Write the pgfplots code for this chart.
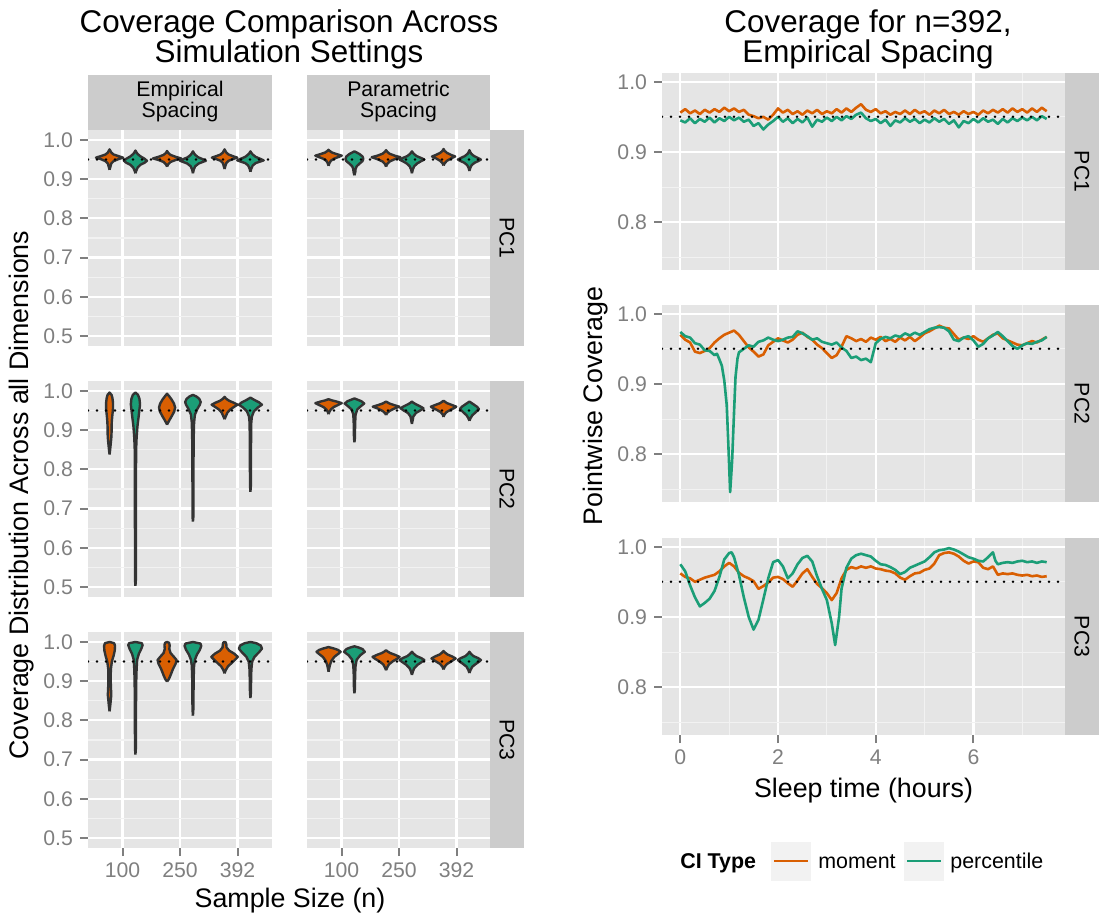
\documentclass[border=0pt]{standalone}
\usepackage{fontspec}
\setmainfont{Liberation Sans}
\usepackage{pgfplots}
\pgfplotsset{compat=1.18}

\definecolor{ggorange}{HTML}{D95F02}
\definecolor{gggreen}{HTML}{1B9E77}
\definecolor{ggpanel}{HTML}{E5E5E5}
\definecolor{ggminor}{HTML}{F2F2F2}
\definecolor{ggstrip}{HTML}{CCCCCC}
\definecolor{ggtick}{HTML}{7F7F7F}
\definecolor{ggdark}{HTML}{333333}

\pgfplotsset{
  gg/.style={scale only axis, axis background/.style={fill=ggpanel},
    axis line style={draw=none}, tick align=outside, tick pos=left,
    major tick length=4pt, minor tick length=0pt,
    tick style={draw=ggtick, line width=1pt},
    xmajorgrids, ymajorgrids, yminorgrids,
    major grid style={white, line width=1.1pt},
    minor grid style={ggminor, line width=0.55pt},
    tick label style={font=\fontsize{10.6}{12}\selectfont, text=ggtick},
    clip mode=individual},
  vl/.style={gg, width=92pt, height=108pt, xmin=0.4, xmax=3.6,
    ymin=0.4745, ymax=1.0255, xtick={1,2,3}, xticklabels={100,250,392},
    ytick={0.5,0.6,0.7,0.8,0.9,1.0}, yticklabels={0.5,0.6,0.7,0.8,0.9,1.0},
    minor ytick={0.55,0.65,0.75,0.85,0.95}},
  tl/.style={gg, width=201.5pt, height=98.5pt, xmin=-0.375, xmax=7.875,
    ymin=0.732, ymax=1.0124, xtick={0,2,4,6}, xticklabels={0,2,4,6},
    minor xtick={1,3,5,7}, xminorgrids,
    ytick={0.8,0.9,1.0}, yticklabels={0.8,0.9,1.0}, minor ytick={0.75,0.85,0.95}},
  noxlab/.style={xticklabels={}, xtick style={draw=none}},
  noylab/.style={yticklabels={}, ytick style={draw=none}},
  vio/.style={draw=ggdark, line width=1.2pt, line join=round},
  hl/.style={black, line width=1.4pt, dash pattern=on 0pt off 4.5pt, line cap=round},
  ts/.style={line width=1.3pt, line join=round},
}

% violin outline from y/halfwidth pairs, bottom to top
\newcommand\violin[3]{%
  \gdef\vL{}\gdef\vR{}%
  \foreach \yy/\ww in {#3}{%
    \xdef\vL{\vL(\fpeval{#1-\ww},\yy)}%
    \xdef\vR{(\fpeval{#1+\ww},\yy)\vR}%
  }%
  \edef\vnext{\noexpand\addplot[vio,fill=#2] coordinates {\vL\vR};}%
  \vnext
}

\begin{document}
\begin{tikzpicture}
\path[use as bounding box] (0,0) rectangle (550pt,459pt);

% ---------- left: violins ----------
\begin{axis}[vl, noxlab, at={(44pt,286pt)}, anchor=south west]
\violin{0.775}{ggorange}{0.924/0, 0.932/0.015, 0.940/0.03, 0.946/0.07, 0.951/0.15, 0.955/0.235, 0.959/0.15, 0.963/0.07, 0.968/0.03, 0.972/0.015, 0.976/0}
\violin{1.225}{gggreen}{0.915/0, 0.922/0.015, 0.930/0.04, 0.937/0.09, 0.942/0.16, 0.947/0.2, 0.952/0.16, 0.958/0.09, 0.964/0.04, 0.969/0.015, 0.973/0}
\violin{1.775}{ggorange}{0.932/0, 0.938/0.02, 0.944/0.06, 0.949/0.15, 0.953/0.245, 0.957/0.15, 0.962/0.06, 0.967/0.02, 0.972/0}
\violin{2.225}{gggreen}{0.915/0, 0.925/0.015, 0.933/0.04, 0.940/0.1, 0.944/0.17, 0.947/0.225, 0.951/0.17, 0.956/0.09, 0.962/0.04, 0.967/0.015, 0.971/0}
\violin{2.775}{ggorange}{0.926/0, 0.934/0.015, 0.941/0.03, 0.947/0.07, 0.951/0.14, 0.955/0.22, 0.959/0.14, 0.963/0.07, 0.968/0.03, 0.972/0.015, 0.976/0}
\violin{3.225}{gggreen}{0.919/0, 0.927/0.015, 0.935/0.04, 0.941/0.09, 0.945/0.17, 0.948/0.23, 0.952/0.17, 0.957/0.09, 0.963/0.04, 0.967/0.015, 0.971/0}
\addplot[hl] coordinates {(0.4,0.95) (3.6,0.95)};
\end{axis}

\begin{axis}[vl, noxlab, noylab, at={(153.5pt,286pt)}, anchor=south west]
\violin{0.775}{ggorange}{0.934/0, 0.941/0.015, 0.947/0.04, 0.952/0.09, 0.956/0.16, 0.960/0.23, 0.964/0.14, 0.968/0.06, 0.972/0.02, 0.975/0}
\violin{1.225}{gggreen}{0.910/0, 0.918/0.015, 0.926/0.02, 0.933/0.04, 0.940/0.09, 0.946/0.14, 0.952/0.155, 0.958/0.14, 0.964/0.09, 0.968/0.04, 0.971/0}
\violin{1.775}{ggorange}{0.932/0, 0.939/0.02, 0.945/0.06, 0.951/0.15, 0.956/0.25, 0.960/0.15, 0.965/0.06, 0.970/0.02, 0.974/0}
\violin{2.225}{gggreen}{0.915/0, 0.925/0.015, 0.933/0.04, 0.940/0.09, 0.946/0.16, 0.950/0.215, 0.954/0.16, 0.959/0.08, 0.965/0.03, 0.971/0}
\violin{2.775}{ggorange}{0.935/0, 0.941/0.02, 0.947/0.06, 0.953/0.13, 0.958/0.2, 0.962/0.13, 0.967/0.06, 0.972/0.02, 0.977/0}
\violin{3.225}{gggreen}{0.921/0, 0.929/0.015, 0.936/0.04, 0.942/0.09, 0.946/0.15, 0.950/0.2, 0.954/0.15, 0.959/0.08, 0.965/0.03, 0.970/0.012, 0.974/0}
\addplot[hl] coordinates {(0.4,0.95) (3.6,0.95)};
\end{axis}

\begin{axis}[vl, noxlab, at={(44pt,160.5pt)}, anchor=south west]
\violin{0.775}{ggorange}{0.838/0, 0.850/0.01, 0.865/0.02, 0.880/0.03, 0.895/0.035, 0.910/0.035, 0.925/0.04, 0.940/0.05, 0.955/0.06, 0.970/0.06, 0.982/0.05, 0.990/0.035, 0.996/0}
\violin{1.225}{gggreen}{0.503/0, 0.52/0.008, 0.60/0.008, 0.70/0.009, 0.80/0.01, 0.85/0.012, 0.88/0.02, 0.91/0.035, 0.94/0.06, 0.966/0.08, 0.980/0.07, 0.990/0.045, 0.996/0}
\violin{1.775}{ggorange}{0.914/0, 0.920/0.02, 0.928/0.05, 0.938/0.09, 0.948/0.125, 0.958/0.14, 0.968/0.12, 0.978/0.08, 0.986/0.04, 0.993/0}
\violin{2.225}{gggreen}{0.667/0, 0.68/0.008, 0.75/0.008, 0.82/0.01, 0.88/0.013, 0.92/0.02, 0.94/0.035, 0.955/0.08, 0.965/0.12, 0.972/0.135, 0.980/0.11, 0.986/0.06, 0.990/0}
\violin{2.775}{ggorange}{0.928/0, 0.935/0.02, 0.945/0.05, 0.953/0.1, 0.960/0.17, 0.965/0.225, 0.970/0.16, 0.975/0.08, 0.980/0.03, 0.985/0}
\violin{3.225}{gggreen}{0.743/0, 0.76/0.008, 0.82/0.009, 0.88/0.011, 0.92/0.015, 0.935/0.025, 0.948/0.06, 0.958/0.13, 0.965/0.2, 0.971/0.15, 0.977/0.07, 0.983/0}
\addplot[hl] coordinates {(0.4,0.95) (3.6,0.95)};
\end{axis}

\begin{axis}[vl, noxlab, noylab, at={(153.5pt,160.5pt)}, anchor=south west]
\violin{0.775}{ggorange}{0.941/0, 0.947/0.015, 0.953/0.04, 0.959/0.09, 0.964/0.16, 0.969/0.23, 0.973/0.14, 0.976/0.06, 0.979/0}
\violin{1.225}{gggreen}{0.869/0, 0.88/0.008, 0.90/0.01, 0.92/0.013, 0.94/0.02, 0.953/0.05, 0.961/0.11, 0.968/0.17, 0.974/0.12, 0.978/0.05, 0.981/0}
\violin{1.775}{ggorange}{0.939/0, 0.944/0.02, 0.949/0.06, 0.955/0.14, 0.960/0.23, 0.964/0.14, 0.968/0.06, 0.973/0}
\violin{2.225}{gggreen}{0.916/0, 0.925/0.012, 0.935/0.025, 0.944/0.07, 0.950/0.14, 0.956/0.2, 0.961/0.14, 0.966/0.07, 0.970/0.025, 0.973/0}
\violin{2.775}{ggorange}{0.934/0, 0.940/0.015, 0.946/0.05, 0.952/0.12, 0.957/0.19, 0.960/0.22, 0.964/0.15, 0.969/0.06, 0.975/0}
\violin{3.225}{gggreen}{0.924/0, 0.931/0.02, 0.938/0.05, 0.946/0.11, 0.954/0.165, 0.960/0.13, 0.966/0.07, 0.970/0.03, 0.973/0}
\addplot[hl] coordinates {(0.4,0.95) (3.6,0.95)};
\end{axis}

\begin{axis}[vl, at={(44pt,35pt)}, anchor=south west]
\violin{0.775}{ggorange}{0.823/0, 0.835/0.01, 0.850/0.02, 0.865/0.03, 0.880/0.025, 0.900/0.02, 0.930/0.022, 0.950/0.04, 0.965/0.07, 0.978/0.09, 0.990/0.095, 0.997/0.08, 1.0/0}
\violin{1.225}{gggreen}{0.713/0, 0.73/0.008, 0.80/0.009, 0.86/0.011, 0.90/0.014, 0.93/0.02, 0.955/0.03, 0.970/0.06, 0.982/0.1, 0.992/0.125, 0.997/0.11, 1.0/0}
\violin{1.775}{ggorange}{0.899/0, 0.905/0.03, 0.915/0.06, 0.930/0.1, 0.945/0.15, 0.954/0.165, 0.962/0.12, 0.972/0.06, 0.982/0.04, 0.992/0.045, 0.998/0.035, 1.0/0}
\violin{2.225}{gggreen}{0.812/0, 0.83/0.008, 0.87/0.01, 0.91/0.013, 0.94/0.02, 0.955/0.035, 0.968/0.07, 0.980/0.12, 0.990/0.145, 0.996/0.13, 1.0/0}
\violin{2.775}{ggorange}{0.920/0, 0.928/0.02, 0.938/0.06, 0.950/0.15, 0.962/0.23, 0.970/0.17, 0.978/0.08, 0.986/0.035, 0.994/0.03, 0.999/0.02, 1.0/0}
\violin{3.225}{gggreen}{0.857/0, 0.87/0.008, 0.90/0.011, 0.93/0.016, 0.950/0.03, 0.962/0.07, 0.974/0.15, 0.983/0.2, 0.991/0.18, 0.997/0.1, 1.0/0}
\addplot[hl] coordinates {(0.4,0.95) (3.6,0.95)};
\end{axis}

\begin{axis}[vl, noylab, at={(153.5pt,35pt)}, anchor=south west]
\violin{0.775}{ggorange}{0.924/0, 0.932/0.01, 0.942/0.025, 0.952/0.05, 0.962/0.1, 0.970/0.17, 0.975/0.21, 0.980/0.16, 0.984/0.08, 0.987/0}
\violin{1.225}{gggreen}{0.869/0, 0.88/0.008, 0.90/0.01, 0.92/0.013, 0.94/0.02, 0.955/0.04, 0.966/0.1, 0.975/0.18, 0.982/0.14, 0.986/0.07, 0.989/0}
\violin{1.775}{ggorange}{0.928/0, 0.935/0.02, 0.943/0.05, 0.951/0.12, 0.957/0.19, 0.962/0.235, 0.967/0.16, 0.972/0.07, 0.976/0.025, 0.979/0}
\violin{2.225}{gggreen}{0.916/0, 0.924/0.015, 0.933/0.04, 0.942/0.1, 0.949/0.17, 0.954/0.215, 0.959/0.16, 0.964/0.08, 0.970/0.03, 0.975/0}
\violin{2.775}{ggorange}{0.930/0, 0.937/0.02, 0.944/0.06, 0.951/0.14, 0.958/0.21, 0.963/0.15, 0.968/0.07, 0.973/0.025, 0.977/0}
\violin{3.225}{gggreen}{0.921/0, 0.929/0.02, 0.937/0.05, 0.945/0.12, 0.950/0.17, 0.954/0.2, 0.959/0.15, 0.964/0.07, 0.970/0.025, 0.975/0}
\addplot[hl] coordinates {(0.4,0.95) (3.6,0.95)};
\end{axis}

% ---------- right: pointwise coverage ----------
\begin{axis}[tl, noxlab, at={(331pt,324pt)}, anchor=south west]
\addplot[ts, ggorange] table {
0.0 0.956
0.1 0.961
0.2 0.955
0.3 0.959
0.4 0.954
0.5 0.960
0.6 0.956
0.7 0.961
0.8 0.957
0.9 0.963
1.0 0.958
1.1 0.962
1.2 0.957
1.3 0.960
1.4 0.953
1.5 0.951
1.6 0.948
1.7 0.950
1.8 0.946
1.9 0.953
2.0 0.962
2.1 0.956
2.2 0.960
2.3 0.954
2.4 0.958
2.5 0.953
2.6 0.959
2.7 0.955
2.8 0.960
2.9 0.954
3.0 0.958
3.1 0.955
3.2 0.961
3.3 0.956
3.4 0.962
3.5 0.957
3.6 0.963
3.7 0.968
3.8 0.960
3.9 0.957
4.0 0.961
4.1 0.955
4.2 0.958
4.3 0.953
4.4 0.957
4.5 0.954
4.6 0.959
4.7 0.954
4.8 0.960
4.9 0.955
5.0 0.958
5.1 0.953
5.2 0.959
5.3 0.955
5.4 0.960
5.5 0.954
5.6 0.957
5.7 0.953
5.8 0.958
5.9 0.954
6.0 0.957
6.1 0.953
6.2 0.959
6.3 0.955
6.4 0.960
6.5 0.956
6.6 0.961
6.7 0.956
6.8 0.962
6.9 0.957
7.0 0.961
7.1 0.956
7.2 0.962
7.3 0.957
7.4 0.963
7.5 0.958
};
\addplot[ts, gggreen] table {
0.0 0.945
0.1 0.942
0.2 0.948
0.3 0.941
0.4 0.947
0.5 0.943
0.6 0.949
0.7 0.942
0.8 0.948
0.9 0.944
1.0 0.950
1.1 0.945
1.2 0.949
1.3 0.943
1.4 0.946
1.5 0.937
1.6 0.941
1.7 0.932
1.8 0.939
1.9 0.944
2.0 0.950
2.1 0.943
2.2 0.948
2.3 0.941
2.4 0.947
2.5 0.942
2.6 0.949
2.7 0.936
2.8 0.946
2.9 0.943
3.0 0.949
3.1 0.944
3.2 0.950
3.3 0.945
3.4 0.951
3.5 0.947
3.6 0.953
3.7 0.956
3.8 0.948
3.9 0.944
4.0 0.947
4.1 0.941
4.2 0.946
4.3 0.937
4.4 0.945
4.5 0.942
4.6 0.948
4.7 0.943
4.8 0.947
4.9 0.941
5.0 0.946
5.1 0.942
5.2 0.948
5.3 0.943
5.4 0.947
5.5 0.940
5.6 0.945
5.7 0.935
5.8 0.944
5.9 0.941
6.0 0.947
6.1 0.942
6.2 0.948
6.3 0.943
6.4 0.946
6.5 0.940
6.6 0.947
6.7 0.942
6.8 0.948
6.9 0.944
7.0 0.949
7.1 0.945
7.2 0.950
7.3 0.945
7.4 0.951
7.5 0.947
};
\addplot[hl] coordinates {(-0.375,0.95) (7.875,0.95)};
\end{axis}

\begin{axis}[tl, noxlab, at={(331pt,208pt)}, anchor=south west]
\addplot[ts, ggorange] table {
0.0 0.970
0.1 0.963
0.2 0.959
0.3 0.946
0.4 0.944
0.5 0.947
0.6 0.951
0.7 0.959
0.8 0.965
0.9 0.970
1.0 0.973
1.1 0.976
1.2 0.970
1.3 0.961
1.4 0.952
1.5 0.946
1.6 0.939
1.7 0.942
1.8 0.955
1.9 0.960
2.0 0.965
2.1 0.962
2.2 0.959
2.3 0.963
2.4 0.970
2.5 0.973
2.6 0.967
2.7 0.963
2.8 0.956
2.9 0.951
3.0 0.944
3.1 0.937
3.2 0.941
3.3 0.953
3.4 0.968
3.5 0.965
3.6 0.961
3.7 0.964
3.8 0.960
3.9 0.966
4.0 0.963
4.1 0.967
4.2 0.961
4.3 0.964
4.4 0.960
4.5 0.966
4.6 0.962
4.7 0.967
4.8 0.961
4.9 0.966
5.0 0.972
5.1 0.975
5.2 0.979
5.3 0.983
5.4 0.980
5.5 0.979
5.6 0.971
5.7 0.963
5.8 0.966
5.9 0.964
6.0 0.968
6.1 0.963
6.2 0.960
6.3 0.965
6.4 0.970
6.5 0.972
6.6 0.965
6.7 0.962
6.8 0.959
6.9 0.956
7.0 0.955
7.1 0.958
7.2 0.961
7.3 0.959
7.4 0.963
7.5 0.967
};
\addplot[ts, gggreen] table {
0.0 0.974
0.1 0.968
0.2 0.966
0.3 0.958
0.4 0.956
0.5 0.948
0.6 0.947
0.7 0.941
0.75 0.943
0.8 0.935
0.85 0.926
0.9 0.905
0.95 0.870
0.98 0.820
1.02 0.746
1.06 0.790
1.10 0.860
1.13 0.910
1.17 0.936
1.2 0.945
1.3 0.950
1.4 0.955
1.5 0.953
1.6 0.960
1.7 0.962
1.8 0.966
1.9 0.963
2.0 0.961
2.1 0.963
2.2 0.966
2.3 0.967
2.4 0.975
2.5 0.972
2.6 0.968
2.7 0.963
2.8 0.965
2.9 0.960
3.0 0.958
3.1 0.956
3.2 0.959
3.3 0.952
3.4 0.947
3.5 0.937
3.6 0.939
3.7 0.934
3.8 0.936
3.9 0.931
4.0 0.958
4.1 0.964
4.2 0.967
4.3 0.965
4.4 0.969
4.5 0.967
4.6 0.972
4.7 0.969
4.8 0.973
4.9 0.970
5.0 0.974
5.1 0.978
5.2 0.980
5.3 0.981
5.4 0.980
5.5 0.975
5.6 0.963
5.7 0.961
5.8 0.966
5.9 0.968
6.0 0.962
6.1 0.953
6.2 0.957
6.3 0.965
6.4 0.969
6.5 0.974
6.6 0.968
6.7 0.961
6.8 0.954
6.9 0.950
7.0 0.955
7.1 0.958
7.2 0.957
7.3 0.960
7.4 0.962
7.5 0.967
};
\addplot[hl] coordinates {(-0.375,0.95) (7.875,0.95)};
\end{axis}

\begin{axis}[tl, at={(331pt,91.5pt)}, anchor=south west]
\addplot[ts, ggorange] table {
0.0 0.962
0.1 0.957
0.2 0.955
0.3 0.950
0.4 0.953
0.5 0.956
0.6 0.958
0.7 0.960
0.8 0.965
0.9 0.972
1.0 0.977
1.1 0.972
1.2 0.963
1.3 0.958
1.4 0.955
1.5 0.951
1.6 0.940
1.7 0.944
1.8 0.949
1.9 0.956
2.0 0.957
2.1 0.954
2.2 0.948
2.3 0.943
2.4 0.952
2.5 0.962
2.6 0.968
2.7 0.957
2.8 0.947
2.9 0.941
3.0 0.934
3.1 0.924
3.2 0.934
3.3 0.955
3.4 0.967
3.5 0.971
3.6 0.969
3.7 0.972
3.8 0.970
3.9 0.972
4.0 0.969
4.1 0.968
4.2 0.966
4.3 0.965
4.4 0.962
4.5 0.956
4.6 0.953
4.7 0.958
4.8 0.962
4.9 0.963
5.0 0.967
5.1 0.969
5.2 0.976
5.3 0.988
5.4 0.991
5.5 0.992
5.6 0.990
5.7 0.986
5.8 0.980
5.9 0.976
6.0 0.979
6.1 0.978
6.2 0.970
6.3 0.968
6.4 0.972
6.5 0.960
6.6 0.962
6.7 0.961
6.8 0.962
6.9 0.960
7.0 0.959
7.1 0.960
7.2 0.958
7.3 0.959
7.4 0.957
7.5 0.958
};
\addplot[ts, gggreen] table {
0.0 0.975
0.1 0.965
0.2 0.945
0.3 0.928
0.4 0.915
0.5 0.920
0.6 0.926
0.7 0.937
0.8 0.957
0.9 0.982
1.0 0.991
1.05 0.992
1.1 0.985
1.2 0.960
1.3 0.928
1.4 0.900
1.5 0.882
1.6 0.896
1.7 0.925
1.8 0.955
1.9 0.978
2.0 0.981
2.1 0.972
2.2 0.955
2.3 0.962
2.4 0.975
2.5 0.984
2.6 0.987
2.7 0.979
2.8 0.958
2.9 0.940
3.0 0.924
3.1 0.891
3.17 0.860
3.25 0.900
3.3 0.940
3.4 0.970
3.5 0.983
3.6 0.988
3.7 0.990
3.8 0.988
3.9 0.986
4.0 0.980
4.1 0.975
4.2 0.974
4.3 0.971
4.4 0.967
4.5 0.961
4.6 0.964
4.7 0.970
4.8 0.973
4.9 0.976
5.0 0.979
5.1 0.985
5.2 0.992
5.3 0.995
5.4 0.996
5.5 0.998
5.6 0.996
5.7 0.993
5.8 0.989
5.9 0.985
6.0 0.983
6.1 0.980
6.2 0.979
6.3 0.985
6.4 0.992
6.45 0.980
6.5 0.975
6.6 0.977
6.7 0.978
6.8 0.977
6.9 0.979
7.0 0.980
7.1 0.978
7.2 0.979
7.3 0.977
7.4 0.979
7.5 0.978
};
\addplot[hl] coordinates {(-0.375,0.95) (7.875,0.95)};
\end{axis}

% ---------- strips ----------
\fill[ggstrip] (44pt,394pt) rectangle (136pt,421.5pt);
\fill[ggstrip] (153.5pt,394pt) rectangle (245pt,421.5pt);
\begin{scope}[every node/.style={anchor=base, inner sep=0pt, font=\fontsize{10.6}{12}\selectfont}]
\node at (90pt,410.5pt) {Empirical};
\node at (90pt,400pt) {Spacing};
\node at (199.25pt,410.5pt) {Parametric};
\node at (199.25pt,400pt) {Spacing};
\end{scope}
\fill[ggstrip] (245pt,286pt) rectangle (262pt,394pt);
\fill[ggstrip] (245pt,160.5pt) rectangle (262pt,268.5pt);
\fill[ggstrip] (245pt,35pt) rectangle (262pt,143pt);
\fill[ggstrip] (532.5pt,324pt) rectangle (549.5pt,422.5pt);
\fill[ggstrip] (532.5pt,208pt) rectangle (549.5pt,306.5pt);
\fill[ggstrip] (532.5pt,91.5pt) rectangle (549.5pt,190pt);
\begin{scope}[every node/.style={rotate=-90, font=\fontsize{10.6}{12}\selectfont}]
\node at (253.5pt,340pt) {PC1};
\node at (253.5pt,214.5pt) {PC2};
\node at (253.5pt,89pt) {PC3};
\node at (541pt,373.25pt) {PC1};
\node at (541pt,257.25pt) {PC2};
\node at (541pt,140.75pt) {PC3};
\end{scope}

% ---------- titles and labels ----------
\begin{scope}[every node/.style={anchor=base, inner sep=0pt, font=\fontsize{15.7}{15}\selectfont}]
\node at (144.5pt,442.5pt) {Coverage Comparison Across};
\node at (144.5pt,427.5pt) {Simulation Settings};
\node at (434pt,442.5pt) {Coverage for n=392,};
\node at (434pt,427.5pt) {Empirical Spacing};
\end{scope}
\node[rotate=90, font=\fontsize{13.4}{15}\selectfont] at (11pt,211.5pt) {Coverage Distribution Across all Dimensions};
\node[anchor=base, font=\fontsize{13.4}{15}\selectfont] at (145pt,5.5pt) {Sample Size (n)};
\node[rotate=90, font=\fontsize{13.4}{15}\selectfont] at (298pt,256pt) {Pointwise Coverage};
\node[anchor=base, font=\fontsize{13.4}{15}\selectfont] at (431.75pt,60.5pt) {Sleep time (hours)};

% ---------- legend ----------
\node[anchor=base west, inner sep=0pt, font=\fontsize{10.7}{12}\selectfont\bfseries] at (340pt,25pt) {CI Type};
\fill[ggminor] (385.5pt,18.5pt) rectangle (405.5pt,38pt);
\draw[ggorange, line width=1pt] (387pt,28.5pt) -- (404pt,28.5pt);
\node[anchor=base west, inner sep=0pt, font=\fontsize{10.7}{12}\selectfont] at (409pt,25pt) {moment};
\fill[ggminor] (452pt,18.5pt) rectangle (472pt,38pt);
\draw[gggreen, line width=1pt] (453.5pt,28.5pt) -- (470.5pt,28.5pt);
\node[anchor=base west, inner sep=0pt, font=\fontsize{10.7}{12}\selectfont] at (475pt,25pt) {percentile};
\end{tikzpicture}
\end{document}
